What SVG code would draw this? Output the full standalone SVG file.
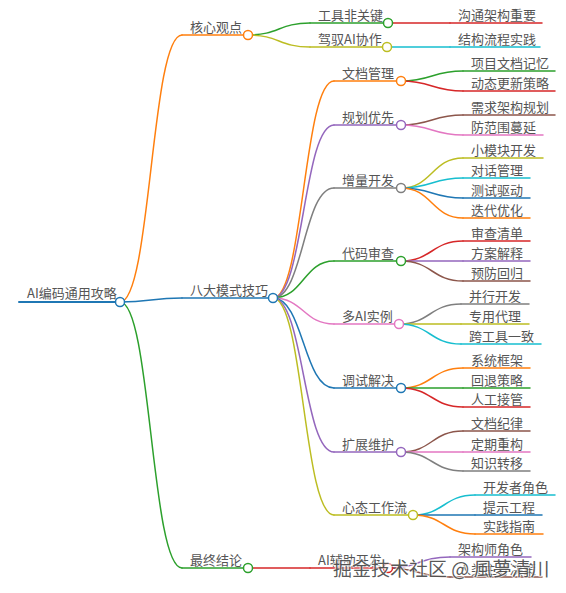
<svg xmlns="http://www.w3.org/2000/svg" width="566" height="593" viewBox="0 0 566 593">
<style>
text{font-family:"Noto Sans CJK SC","Noto Sans",sans-serif;font-size:13px;fill:#555}
path,line,circle{fill:none;stroke-width:1.5;stroke-linecap:round}
circle{fill:#fff}
.b{stroke:#1f77b4}.o{stroke:#ff7f0e}.g{stroke:#2ca02c}.r{stroke:#d62728}.p{stroke:#9467bd}
.br{stroke:#8c564b}.pk{stroke:#e377c2}.gy{stroke:#7f7f7f}.ol{stroke:#bcbd22}.cy{stroke:#17becf}
.wm{font-size:19px;fill:#3a3a3a;fill-opacity:0.85;stroke:#fff;stroke-width:2;stroke-opacity:0.7;paint-order:stroke}
</style>
<g id="connectors">
<path class="o" d="M120 302C151 302 151 35 182 35"/>
<path class="b" d="M120 302C151 302 151 298 182 298"/>
<path class="g" d="M120 302C151 302 151 568 182 568"/>
<path class="g" d="M248 35C279 35 279 23 310 23"/>
<path class="ol" d="M248 35C279 35 279 47 310 47"/>
<path class="r" d="M388 23L450 23"/>
<path class="cy" d="M387 47L450 47"/>
<path class="o" d="M273 298C303.5 298 303.5 81 334 81"/>
<path class="p" d="M273 298C303.5 298 303.5 125 334 125"/>
<path class="gy" d="M273 298C303.5 298 303.5 188 334 188"/>
<path class="g" d="M273 298C303.5 298 303.5 261 334 261"/>
<path class="pk" d="M273 298C303.5 298 303.5 324 334 324"/>
<path class="b" d="M273 298C303.5 298 303.5 388 334 388"/>
<path class="p" d="M273 298C303.5 298 303.5 452 334 452"/>
<path class="ol" d="M273 298C303.5 298 303.5 515 334 515"/>
<path class="g" d="M401 81C432 81 432 71 463 71"/>
<path class="r" d="M401 81C432 81 432 91 463 91"/>
<path class="br" d="M401 125C432 125 432 115 463 115"/>
<path class="pk" d="M401 125C432 125 432 135 463 135"/>
<path class="ol" d="M401 188C432 188 432 158 463 158"/>
<path class="cy" d="M401 188C432 188 432 178 463 178"/>
<path class="b" d="M401 188C432 188 432 198 463 198"/>
<path class="o" d="M401 188C432 188 432 218 463 218"/>
<path class="r" d="M401 261C432 261 432 241 463 241"/>
<path class="p" d="M401 261C432 261 432 261 463 261"/>
<path class="br" d="M401 261C432 261 432 281 463 281"/>
<path class="gy" d="M399 324C430 324 430 304 461 304"/>
<path class="ol" d="M399 324C430 324 430 324 461 324"/>
<path class="cy" d="M399 324C430 324 430 344 461 344"/>
<path class="o" d="M401 388C432 388 432 368 463 368"/>
<path class="g" d="M401 388C432 388 432 388 463 388"/>
<path class="r" d="M401 388C432 388 432 407 463 407"/>
<path class="br" d="M401 452C432 452 432 431 463 431"/>
<path class="pk" d="M401 452C432 452 432 452 463 452"/>
<path class="gy" d="M401 452C432 452 432 471 463 471"/>
<path class="cy" d="M413 515C444 515 444 495 475 495"/>
<path class="b" d="M413 515C444 515 444 515 475 515"/>
<path class="o" d="M413 515C444 515 444 534 475 534"/>
<path class="r" d="M248 568L310 568"/>
<path class="p" d="M388 568C419 568 419 557 450 557"/>
<path class="br" d="M388 568C419 568 419 577 450 577"/>
</g>
<g id="n-root"><line class="b" style="stroke-width:2" x1="19" y1="302" x2="120" y2="302"/><text x="27" y="298">AI编码通用攻略</text><circle class="b" cx="120" cy="302" r="4.5"/></g>
<g id="n-core"><line class="o" x1="182" y1="35" x2="248" y2="35"/><text x="190" y="32">核心观点</text><circle class="o" cx="248" cy="35" r="4.5"/></g>
<g id="n-tool"><line class="g" x1="310" y1="23" x2="388" y2="23"/><text x="318" y="20">工具非关键</text><circle class="g" cx="388" cy="23" r="4.5"/></g>
<g id="n-comm"><line class="r" x1="450" y1="23" x2="542" y2="23"/><text x="458" y="20">沟通架构重要</text></g>
<g id="n-drive"><line class="ol" x1="310" y1="47" x2="387" y2="47"/><text x="318" y="44">驾驭AI协作</text><circle class="ol" cx="387" cy="47" r="4.5"/></g>
<g id="n-struct"><line class="cy" x1="450" y1="47" x2="540" y2="47"/><text x="458" y="44">结构流程实践</text></g>
<g id="n-eight"><line class="b" x1="182" y1="298" x2="273" y2="298"/><text x="190" y="295">八大模式技巧</text><circle class="b" cx="273" cy="298" r="4.5"/></g>
<g id="n-doc"><line class="o" x1="334" y1="81" x2="401" y2="81"/><text x="342" y="78">文档管理</text><circle class="o" cx="401" cy="81" r="4.5"/></g>
<g id="n-doc1"><line class="g" x1="463" y1="71" x2="555" y2="71"/><text x="471" y="68">项目文档记忆</text></g>
<g id="n-doc2"><line class="r" x1="463" y1="91" x2="555" y2="91"/><text x="471" y="88">动态更新策略</text></g>
<g id="n-plan"><line class="p" x1="334" y1="125" x2="401" y2="125"/><text x="342" y="122">规划优先</text><circle class="p" cx="401" cy="125" r="4.5"/></g>
<g id="n-plan1"><line class="br" x1="463" y1="115" x2="555" y2="115"/><text x="471" y="112">需求架构规划</text></g>
<g id="n-plan2"><line class="pk" x1="463" y1="135" x2="543" y2="135"/><text x="471" y="132">防范围蔓延</text></g>
<g id="n-inc"><line class="gy" x1="334" y1="188" x2="401" y2="188"/><text x="342" y="185">增量开发</text><circle class="gy" cx="401" cy="188" r="4.5"/></g>
<g id="n-inc1"><line class="ol" x1="463" y1="158" x2="543" y2="158"/><text x="471" y="155">小模块开发</text></g>
<g id="n-inc2"><line class="cy" x1="463" y1="178" x2="530" y2="178"/><text x="471" y="175">对话管理</text></g>
<g id="n-inc3"><line class="b" x1="463" y1="198" x2="530" y2="198"/><text x="471" y="195">测试驱动</text></g>
<g id="n-inc4"><line class="o" x1="463" y1="218" x2="530" y2="218"/><text x="471" y="215">迭代优化</text></g>
<g id="n-rev"><line class="g" x1="334" y1="261" x2="401" y2="261"/><text x="342" y="258">代码审查</text><circle class="g" cx="401" cy="261" r="4.5"/></g>
<g id="n-rev1"><line class="r" x1="463" y1="241" x2="530" y2="241"/><text x="471" y="238">审查清单</text></g>
<g id="n-rev2"><line class="p" x1="463" y1="261" x2="530" y2="261"/><text x="471" y="258">方案解释</text></g>
<g id="n-rev3"><line class="br" x1="463" y1="281" x2="530" y2="281"/><text x="471" y="278">预防回归</text></g>
<g id="n-multi"><line class="pk" x1="334" y1="324" x2="399" y2="324"/><text x="342" y="321">多AI实例</text><circle class="pk" cx="399" cy="324" r="4.5"/></g>
<g id="n-multi1"><line class="gy" x1="461" y1="304" x2="529" y2="304"/><text x="469" y="301">并行开发</text></g>
<g id="n-multi2"><line class="ol" x1="461" y1="324" x2="529" y2="324"/><text x="469" y="321">专用代理</text></g>
<g id="n-multi3"><line class="cy" x1="461" y1="344" x2="541" y2="344"/><text x="469" y="341">跨工具一致</text></g>
<g id="n-debug"><line class="b" x1="334" y1="388" x2="401" y2="388"/><text x="342" y="385">调试解决</text><circle class="b" cx="401" cy="388" r="4.5"/></g>
<g id="n-debug1"><line class="o" x1="463" y1="368" x2="530" y2="368"/><text x="471" y="365">系统框架</text></g>
<g id="n-debug2"><line class="g" x1="463" y1="388" x2="530" y2="388"/><text x="471" y="385">回退策略</text></g>
<g id="n-debug3"><line class="r" x1="463" y1="407" x2="530" y2="407"/><text x="471" y="404">人工接管</text></g>
<g id="n-scale"><line class="p" x1="334" y1="452" x2="401" y2="452"/><text x="342" y="449">扩展维护</text><circle class="p" cx="401" cy="452" r="4.5"/></g>
<g id="n-scale1"><line class="br" x1="463" y1="431" x2="530" y2="431"/><text x="471" y="428">文档纪律</text></g>
<g id="n-scale2"><line class="pk" x1="463" y1="452" x2="530" y2="452"/><text x="471" y="449">定期重构</text></g>
<g id="n-scale3"><line class="gy" x1="463" y1="471" x2="530" y2="471"/><text x="471" y="468">知识转移</text></g>
<g id="n-mind"><line class="ol" x1="334" y1="515" x2="413" y2="515"/><text x="342" y="512">心态工作流</text><circle class="ol" cx="413" cy="515" r="4.5"/></g>
<g id="n-mind1"><line class="cy" x1="475" y1="495" x2="555" y2="495"/><text x="483" y="492">开发者角色</text></g>
<g id="n-mind2"><line class="b" x1="475" y1="515" x2="542" y2="515"/><text x="483" y="512">提示工程</text></g>
<g id="n-mind3"><line class="o" x1="475" y1="534" x2="543" y2="534"/><text x="483" y="531">实践指南</text></g>
<g id="n-final"><line class="g" x1="182" y1="568" x2="248" y2="568"/><text x="190" y="565">最终结论</text><circle class="g" cx="248" cy="568" r="4.5"/></g>
<g id="n-ai"><line class="r" x1="310" y1="568" x2="388" y2="568"/><text x="318" y="565">AI辅助开发</text><circle class="r" cx="388" cy="568" r="4.5"/></g>
<g id="n-ai1"><line class="p" x1="450" y1="557" x2="531" y2="557"/><text x="458" y="554">架构师角色</text></g>
<g id="n-ai2"><line class="br" x1="450" y1="577" x2="542" y2="577"/><text x="458" y="574">人类主导决策</text></g>
<text class="wm" x="333" y="576">掘金技术社区 @ 風夢清川</text>
</svg>
